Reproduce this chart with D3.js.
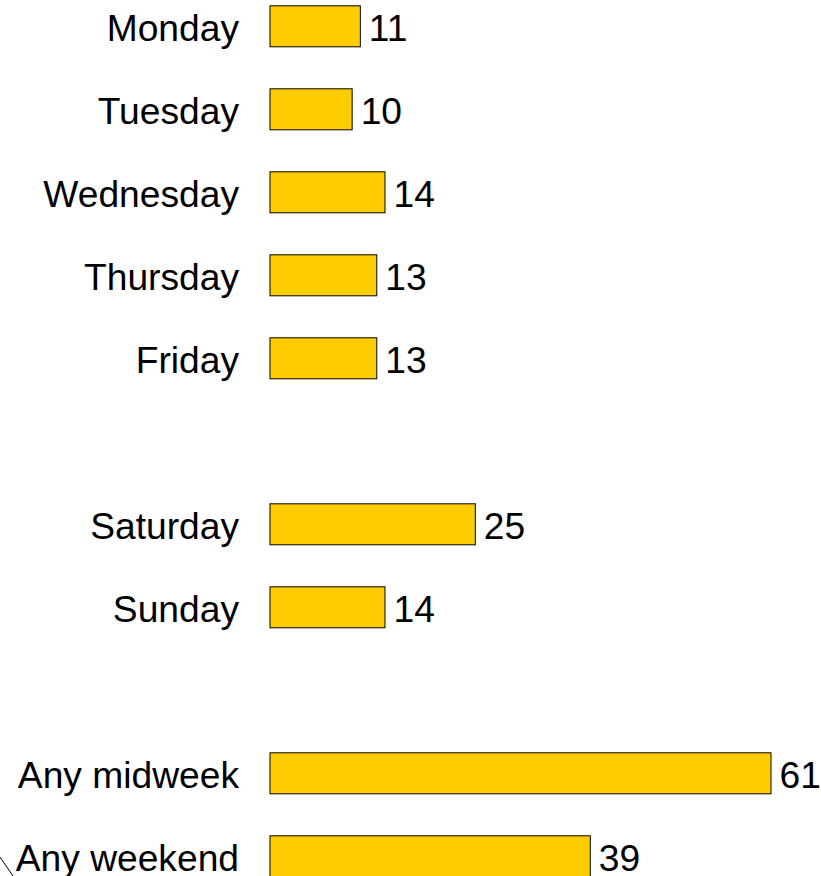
<!DOCTYPE html>
<html>
<head>
<meta charset="utf-8">
<script src="https://cdn.jsdelivr.net/npm/d3@7"></script>
<style>
  html, body { margin: 0; padding: 0; background: #fff; }
  svg { display: block; }
  text { font-family: "Liberation Sans", Arial, Helvetica, sans-serif; fill: #000; }
</style>
</head>
<body>
<svg id="chart" width="821" height="876"></svg>
<script>
// Data
const slots = ["Monday", "Tuesday", "Wednesday", "Thursday", "Friday", "__gap1", "Saturday", "Sunday", "__gap2", "Any midweek", "Any weekend"];
const categories = ["Monday", "Tuesday", "Wednesday", "Thursday", "Friday", "Saturday", "Sunday", "Any midweek", "Any weekend"];
const values = [11, 10, 14, 13, 13, 25, 14, 61, 39];

const data = categories.map((c, i) => ({ cat: c, val: values[i] }));

const svg = d3.select("#chart");
const fs = 37.2;
const barH = 41;

const x = d3.scaleLinear().domain([0, 61]).range([270, 771]);
const y = d3.scalePoint().domain(slots).range([26.3, 856.3]);

// bars
svg.append("g").selectAll("rect")
  .data(data)
  .join("rect")
  .attr("x", x(0))
  .attr("y", d => y(d.cat) - barH / 2)
  .attr("width", d => x(d.val) - x(0))
  .attr("height", barH)
  .attr("fill", "#FFCC00")
  .attr("stroke", "#000")
  .attr("stroke-width", 1);

// category labels
svg.append("g").selectAll("text")
  .data(data)
  .join("text")
  .attr("x", 239)
  .attr("y", d => y(d.cat) + fs * 0.39)
  .attr("text-anchor", "end")
  .attr("font-size", fs)
  .text(d => d.cat);

// value labels
svg.append("g").selectAll("text")
  .data(data)
  .join("text")
  .attr("x", d => x(d.val) + 8.5)
  .attr("y", d => y(d.cat) + fs * 0.39)
  .attr("text-anchor", "start")
  .attr("font-size", fs)
  .text(d => d.val);

// small stray stroke at bottom-left, as in the reference
svg.append("line")
  .attr("x1", 0).attr("y1", 857)
  .attr("x2", 13).attr("y2", 876)
  .attr("stroke", "#000").attr("stroke-width", 1);
</script>
</body>
</html>
